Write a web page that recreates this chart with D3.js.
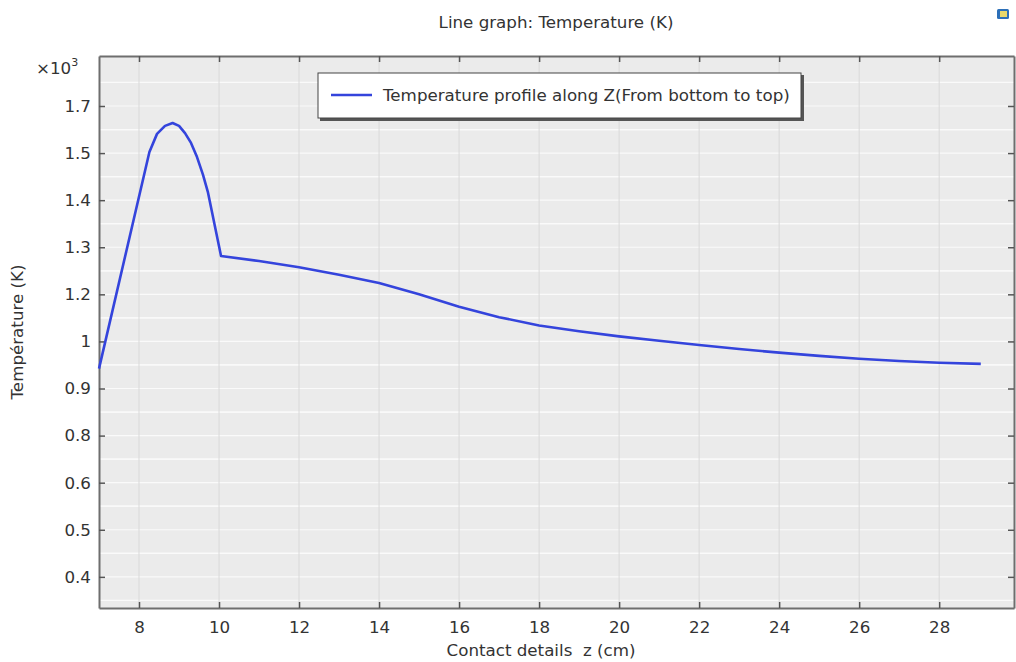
<!DOCTYPE html>
<html>
<head>
<meta charset="utf-8">
<script src="https://cdn.jsdelivr.net/npm/d3@7"></script>
<style>
  body { margin: 0; background: #fff; }
  svg { display: block; font-family: "DejaVu Sans", sans-serif; }
  text { white-space: pre; }
</style>
</head>
<body>
<svg width="1016" height="662"></svg>
<script>
// data (z in cm, T in K)
const zValues = [7.0, 8.26, 8.45, 8.65, 8.84, 9.0, 9.15, 9.3, 9.45, 9.6, 9.72, 10.05, 11, 12, 13, 14, 15, 16, 17, 18, 19, 20, 21, 22, 23, 24, 25, 26, 27, 28, 29.04];
const tempValues = [975, 1573, 1623, 1645, 1653, 1645, 1625, 1598, 1559, 1510, 1463, 1286, 1272, 1255, 1234, 1211, 1180, 1146, 1117, 1094, 1078, 1064, 1052, 1040, 1029, 1019, 1010, 1002, 996, 991, 988];
const xTicks = [8, 10, 12, 14, 16, 18, 20, 22, 24, 26, 28];
const yTicks = [400, 530, 660, 790, 920, 1050, 1180, 1310, 1440, 1570, 1700];
const yTickLabels = ["0.4", "0.5", "0.6", "0.8", "0.9", "1", "1.2", "1.3", "1.4", "1.5", "1.7"];
const seriesName = "Temperature profile along Z(From bottom to top)";

const fs = 16.7;

let svg = d3.select("svg"),
    margin = {top: 56, right: 2, bottom: 54, left: 99},
    width = 1016 - margin.left - margin.right,
    height = 662 - margin.top - margin.bottom;

let x = d3.scaleLinear().domain([7, 29.87]).range([0, width]);
let y = d3.scaleLinear().domain([314, 1838]).range([height, 0]);

let g = svg.append("g").attr("transform", `translate(${margin.left},${margin.top})`);

// plot background
g.append("rect").attr("width", width).attr("height", height).attr("fill", "#ebebeb");

// white horizontal grid (major + halves)
let hGrid = [];
yTicks.forEach(v => { hGrid.push(v); hGrid.push(v + 65); hGrid.push(v - 65); });
g.append("g").selectAll("line")
    .data(hGrid.filter(v => y(v) > 0 && y(v) < height))
    .enter().append("line")
    .attr("x1", 0).attr("x2", width)
    .attr("y1", d => y(d)).attr("y2", d => y(d))
    .attr("stroke", "#fafafa").attr("stroke-width", 1.2);

// vertical grid
g.append("g").selectAll("line")
    .data(xTicks)
    .enter().append("line")
    .attr("x1", d => x(d)).attr("x2", d => x(d))
    .attr("y1", 0).attr("y2", height)
    .attr("stroke", "#d9d9d9").attr("stroke-width", 1);

// axes
let xAxis = g.append("g").attr("transform", `translate(0,${height})`)
    .call(d3.axisBottom(x).tickValues(xTicks).tickSizeInner(-6).tickSizeOuter(0).tickPadding(13));
let xTop = g.append("g")
    .call(d3.axisTop(x).tickValues(xTicks).tickSizeInner(-6).tickSizeOuter(0).tickFormat(""));
let yAxis = g.append("g")
    .call(d3.axisLeft(y).tickValues(yTicks).tickSizeInner(-6).tickSizeOuter(0).tickPadding(8)
        .tickFormat((d, i) => yTickLabels[i]));
let yRight = g.append("g").attr("transform", `translate(${width},0)`)
    .call(d3.axisRight(y).tickValues(yTicks).tickSizeInner(-6).tickSizeOuter(0).tickFormat(""));

[xAxis, xTop, yAxis, yRight].forEach(a => {
    a.select(".domain").attr("stroke", "#6e6e6e").attr("stroke-width", 2);
    a.selectAll(".tick line").attr("stroke", "#555").attr("stroke-width", 1.5);
    a.selectAll("text").attr("font-size", fs).attr("fill", "#333")
        .attr("font-family", "DejaVu Sans, sans-serif");
});

// the line
let line = d3.line()
    .x((d, i) => x(zValues[i]))
    .y(d => y(d))
    .curve(d3.curveLinear);

g.append("path")
    .datum(tempValues)
    .attr("fill", "none")
    .attr("stroke", "#3444dc")
    .attr("stroke-width", 2.6)
    .attr("stroke-linejoin", "round")
    .attr("d", line);

// legend
let legend = svg.append("g").attr("transform", "translate(318,73)");
legend.append("rect").attr("x", 2).attr("y", 2).attr("width", 484).attr("height", 46).attr("fill", "#555");
legend.append("rect").attr("width", 483).attr("height", 45).attr("fill", "#fff")
    .attr("stroke", "#444").attr("stroke-width", 1);
legend.append("line").attr("x1", 13).attr("x2", 54).attr("y1", 22).attr("y2", 22)
    .attr("stroke", "#3444dc").attr("stroke-width", 2.6);
legend.append("text").attr("x", 65).attr("y", 28).attr("font-size", fs).attr("fill", "#333")
    .text(seriesName);

// titles
svg.append("text").attr("x", 556).attr("y", 28).attr("text-anchor", "middle")
    .attr("font-size", fs).attr("fill", "#333").text("Line graph: Temperature (K)");
svg.append("text").attr("x", 541).attr("y", 656).attr("text-anchor", "middle")
    .attr("font-size", fs).attr("fill", "#333").text("Contact details  z (cm)");
svg.append("text").attr("transform", "translate(23,332) rotate(-90)").attr("text-anchor", "middle")
    .attr("font-size", fs).attr("fill", "#333").text("Température (K)");

let mult = svg.append("text").attr("x", 36).attr("y", 74).attr("font-size", fs).attr("fill", "#333");
mult.append("tspan").text("×10");
mult.append("tspan").attr("dy", -8).attr("font-size", 11).text("3");

// small icon top-right
svg.append("rect").attr("x", 997).attr("y", 9).attr("width", 12).attr("height", 10)
    .attr("fill", "#2c6fb8").attr("rx", 1.5);
svg.append("rect").attr("x", 1000).attr("y", 11).attr("width", 7).attr("height", 6)
    .attr("fill", "#e8d86a");
</script>
</body>
</html>
